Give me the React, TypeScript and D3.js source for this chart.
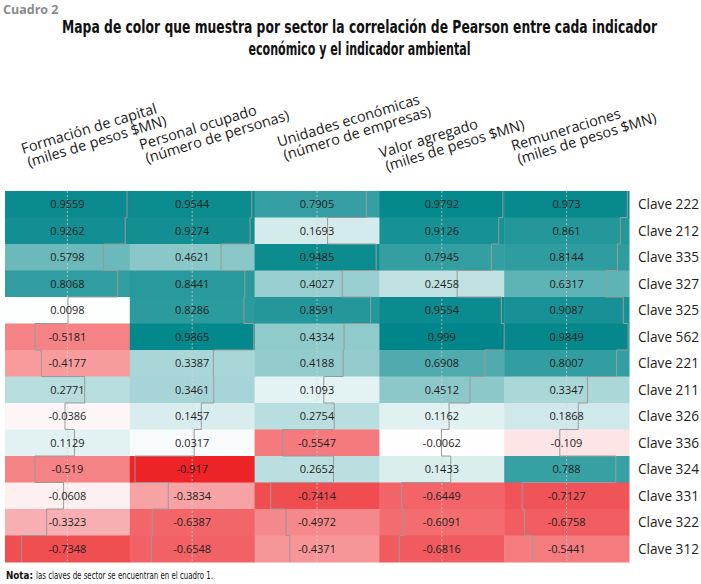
import React from "react";
import * as d3 from "d3";

const columns = [
  "Formación de capital|(miles de pesos $MN)",
  "Personal ocupado|(número de personas)",
  "Unidades económicas|(número de empresas)",
  "Valor agregado|(miles de pesos $MN)",
  "Remuneraciones|(miles de pesos $MN)",
];

const rows = [
  "Clave 222", "Clave 212", "Clave 335", "Clave 327", "Clave 325", "Clave 562", "Clave 221",
  "Clave 211", "Clave 326", "Clave 336", "Clave 324", "Clave 331", "Clave 322", "Clave 312",
];

const formacionCapital = [0.9559, 0.9262, 0.5798, 0.8068, 0.0098, -0.5181, -0.4177, 0.2771, -0.0386, 0.1129, -0.519, -0.0608, -0.3323, -0.7348];
const personalOcupado = [0.9544, 0.9274, 0.4621, 0.8441, 0.8286, 0.9865, 0.3387, 0.3461, 0.1457, 0.0317, -0.917, -0.3834, -0.6387, -0.6548];
const unidadesEconomicas = [0.7905, 0.1693, 0.9485, 0.4027, 0.8591, 0.4334, 0.4188, 0.1093, 0.2754, -0.5547, 0.2652, -0.7414, -0.4972, -0.4371];
const valorAgregado = [0.9792, 0.9126, 0.7945, 0.2458, 0.9554, 0.999, 0.6908, 0.4512, 0.1162, -0.0062, 0.1433, -0.6449, -0.6091, -0.6816];
const remuneraciones = [0.973, 0.861, 0.8144, 0.6317, 0.9087, 0.9849, 0.8007, 0.3347, 0.1868, -0.109, 0.788, -0.7127, -0.6758, -0.5441];

const seriesValues = [formacionCapital, personalOcupado, unidadesEconomicas, valorAgregado, remuneraciones];

const titleLines = [
  "Mapa de color que muestra por sector la correlación de Pearson entre cada indicador",
  "económico y el indicador ambiental",
];

// layout (not data)
const W = 701;
const H = 584;
const labelAnchors = [
  [23, 154],
  [141, 150],
  [279, 147],
  [381, 158],
  [513, 151],
];

const condensed = "'Liberation Sans Narrow', 'DejaVu Sans Condensed', 'Open Sans', sans-serif";
const sans = "'Open Sans', 'Noto Sans', sans-serif";

export default function App() {
  const x = d3.scaleBand<string>().domain(columns).range([5, 629]);
  const y = d3.scaleBand<string>().domain(rows).range([191, 562]);
  const color = d3
    .scaleLinear<string>()
    .domain([-1, 0, 1])
    .range(["#eb0f14", "#ffffff", "#00868a"])
    .interpolate(d3.interpolateRgb);
  const trace = d3.scaleLinear().domain([-1, 1]);
  const bw = x.bandwidth();
  const bh = y.bandwidth();
  const line = d3.line<[number, number]>();

  return (
    <svg width={W} height={H} style={{ position: "absolute", left: 0, top: 0, background: "#fff" }}>
      <text x={3} y={13.5} fontFamily={sans} fontWeight="bold" fontSize={12.5} fill="#8a8a8a">
        Cuadro 2
      </text>
      {titleLines.map((t, i) => (
        <text
          key={i}
          transform={`translate(359.5,${33 + i * 22}) scale(1,1.2)`}
          textAnchor="middle"
          fontFamily={condensed}
          fontWeight="bold"
          fontSize={14.5}
          fill="#111"
          textLength={i === 0 ? 595 : 222}
          lengthAdjust="spacingAndGlyphs"
        >
          {t}
        </text>
      ))}

      {columns.map((c, ci) => {
        const [l1, l2] = c.split("|");
        const [ax, ay] = labelAnchors[ci];
        return (
          <text
            key={c}
            transform={`translate(${ax},${ay}) rotate(-17)`}
            fontFamily={sans}
            fontSize={14.5}
            fill="#1a1a1a"
          >
            <tspan x={0} dy={0}>{l1}</tspan>
            <tspan x={2} dy={14.5}>{l2}</tspan>
          </text>
        );
      })}

      {columns.map((c, ci) =>
        rows.map((r, ri) => {
          const v = seriesValues[ci][ri];
          return (
            <rect
              key={c + r}
              x={x(c)}
              y={y(r)}
              width={bw + 0.5}
              height={bh + 0.5}
              fill={color(v)}
            />
          );
        })
      )}

      {columns.map((c) => (
        <line
          key={"c" + c}
          x1={x(c)! + bw / 2}
          x2={x(c)! + bw / 2}
          y1={y.range()[0]}
          y2={y.range()[1]}
          stroke="#d6d6d6"
          strokeWidth={0.7}
          strokeDasharray="2,2"
        />
      ))}

      {columns.map((c, ci) => {
        trace.range([x(c)!, x(c)! + bw]);
        const pts: [number, number][] = [];
        rows.forEach((r, ri) => {
          const xv = trace(seriesValues[ci][ri]);
          pts.push([xv, y(r)!]);
          pts.push([xv, y(r)! + bh]);
        });
        return <path key={"t" + c} d={line(pts) || ""} fill="none" stroke="#9a9a9a" strokeWidth={1} />;
      })}

      {columns.map((c, ci) =>
        rows.map((r, ri) => (
          <text
            key={"v" + c + r}
            x={x(c)! + bw / 2}
            y={y(r)! + bh / 2}
            dy="0.36em"
            textAnchor="middle"
            fontFamily={sans}
            fontSize={11}
            fill="#1e1e1e"
          >
            {String(seriesValues[ci][ri])}
          </text>
        ))
      )}

      {rows.map((r) => (
        <text
          key={"r" + r}
          x={638}
          y={y(r)! + bh / 2}
          dy="0.36em"
          fontFamily={sans}
          fontSize={14}
          fill="#231f20"
          textLength={61}
          lengthAdjust="spacingAndGlyphs"
        >
          {r}
        </text>
      ))}

      <text x={6} y={579} fontFamily={condensed} fontWeight="bold" fontSize={11} fill="#111" textLength={27} lengthAdjust="spacingAndGlyphs">
        Nota:
      </text>
      <text x={36} y={579} fontFamily={condensed} fontSize={11} fill="#111" textLength={177} lengthAdjust="spacingAndGlyphs">
        las claves de sector se encuentran en el cuadro 1.
      </text>
    </svg>
  );
}
